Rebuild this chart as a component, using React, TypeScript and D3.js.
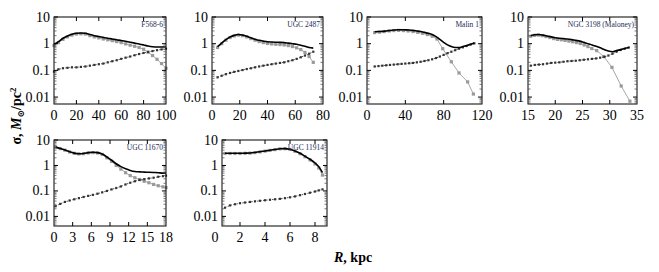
import * as d3 from "d3";

// F568-6
const f568R = [0, 4, 8, 12, 16, 20, 24, 28, 32, 36, 40, 44, 48, 52, 56, 60, 64, 68, 72, 76, 80, 84, 88, 92, 96, 100];
const f568Total = [0.95, 1.2, 1.6, 1.95, 2.25, 2.45, 2.5, 2.45, 2.2, 2.0, 1.85, 1.72, 1.6, 1.5, 1.4, 1.32, 1.22, 1.13, 1.05, 0.98, 0.9, 0.82, 0.77, 0.75, 0.75, 0.76];
const f568Gas = [0.85, 1.1, 1.45, 1.8, 2.1, 2.3, 2.35, 2.3, 2.0, 1.8, 1.65, 1.5, 1.4, 1.3, 1.2, 1.1, 0.98, 0.88, 0.8, 0.72, 0.62, 0.48, 0.36, 0.26, 0.18, 0.12];
const f568Star = [0.09, 0.11, 0.12, 0.125, 0.13, 0.13, 0.135, 0.14, 0.15, 0.16, 0.17, 0.18, 0.2, 0.22, 0.24, 0.27, 0.3, 0.33, 0.37, 0.41, 0.45, 0.49, 0.53, 0.57, 0.61, 0.65];

// UGC 2487
const u2487R = [4, 7, 10, 13, 16, 19, 22, 25, 28, 31, 34, 37, 40, 43, 46, 49, 52, 55, 58, 61, 64, 67, 70, 73];
const u2487Total = [0.78, 1.06, 1.42, 1.78, 2.05, 2.2, 2.1, 1.9, 1.67, 1.48, 1.34, 1.25, 1.18, 1.15, 1.13, 1.12, 1.1, 1.05, 1.0, 0.95, 0.88, 0.8, 0.72, 0.68];
const u2487Gas = [0.72, 1.0, 1.35, 1.7, 1.95, 2.1, 2.0, 1.8, 1.55, 1.35, 1.2, 1.1, 1.02, 0.98, 0.95, 0.93, 0.9, 0.85, 0.78, 0.7, 0.6, 0.47, 0.33, 0.2];
const u2487Star = [0.055, 0.063, 0.072, 0.08, 0.088, 0.095, 0.103, 0.112, 0.12, 0.13, 0.14, 0.15, 0.16, 0.17, 0.18, 0.19, 0.2, 0.22, 0.24, 0.27, 0.31, 0.36, 0.42, 0.5];

// Malin 1
const malinR = [8, 12, 16, 20, 24, 28, 32, 36, 40, 44, 48, 52, 56, 60, 64, 68, 72, 76, 80, 84, 88, 92, 96, 100, 104, 108, 112];
const malinTotal = [2.8, 2.85, 2.9, 3.0, 3.1, 3.25, 3.35, 3.35, 3.3, 3.25, 3.15, 3.0, 2.85, 2.65, 2.45, 2.2, 1.85, 1.45, 1.12, 0.9, 0.78, 0.72, 0.72, 0.78, 0.86, 0.95, 1.05];
const malinStar = [0.14, 0.145, 0.15, 0.155, 0.16, 0.165, 0.17, 0.175, 0.18, 0.185, 0.19, 0.2, 0.21, 0.225, 0.24, 0.26, 0.29, 0.33, 0.38, 0.44, 0.5, 0.57, 0.65, 0.73, 0.82, 0.92, 1.03];
const malinGasR = [8, 13, 18, 23, 28, 33, 38, 43, 48, 53, 58, 63, 68, 73, 79, 88, 96, 105, 111];
const malinGas = [2.6, 2.7, 2.85, 3.0, 3.1, 3.15, 3.1, 3.0, 2.85, 2.65, 2.45, 2.2, 1.9, 1.5, 0.65, 0.21, 0.08, 0.037, 0.013];

// NGC 3198 (Maloney)
const n3198R = [15.5, 16.25, 17, 17.75, 18.5, 19.25, 20, 20.75, 21.5, 22.25, 23, 23.75, 24.5, 25.25, 26, 26.75, 27.5, 28.25, 29, 29.75, 30.5, 31.25, 32, 32.75, 33.5];
const n3198Total = [2.0, 2.15, 2.2, 2.1, 1.95, 1.8, 1.68, 1.6, 1.55, 1.5, 1.42, 1.33, 1.25, 1.12, 1.0, 0.9, 0.8, 0.7, 0.6, 0.53, 0.5, 0.55, 0.6, 0.66, 0.72];
const n3198Star = [0.15, 0.16, 0.165, 0.17, 0.18, 0.19, 0.195, 0.2, 0.21, 0.22, 0.225, 0.23, 0.24, 0.25, 0.26, 0.27, 0.28, 0.3, 0.32, 0.36, 0.42, 0.5, 0.58, 0.65, 0.72];
const n3198GasR = [15.5, 16.2, 16.9, 17.6, 18.3, 19, 19.7, 20.4, 21.1, 21.8, 22.5, 23.2, 23.9, 24.6, 25.3, 26, 26.7, 27.6, 28.9, 30.4, 32.1, 33.7];
const n3198Gas = [1.9, 2.05, 2.1, 2.0, 1.85, 1.7, 1.55, 1.45, 1.4, 1.33, 1.25, 1.18, 1.1, 1.02, 0.9, 0.78, 0.66, 0.55, 0.33, 0.13, 0.026, 0.007];

// UGC 11670
const u11670R = [0.25, 1, 1.75, 2.5, 3.25, 4, 4.75, 5.5, 6.25, 7, 7.75, 8.5, 9.25, 10, 10.75, 11.5, 12.25, 13, 13.75, 14.5, 15.25, 16, 16.75, 17.5, 18];
const u11670Total = [5.25, 4.65, 4.05, 3.45, 3.05, 2.9, 2.95, 3.2, 3.3, 3.2, 2.8, 2.15, 1.6, 1.17, 0.9, 0.74, 0.64, 0.58, 0.56, 0.55, 0.54, 0.53, 0.52, 0.5, 0.5];
const u11670Gas = [5.2, 4.6, 4.0, 3.4, 3.0, 2.85, 2.9, 3.1, 3.2, 3.1, 2.7, 2.0, 1.45, 1.0, 0.72, 0.52, 0.4, 0.33, 0.28, 0.24, 0.21, 0.18, 0.16, 0.145, 0.135];
const u11670Star = [0.025, 0.031, 0.037, 0.042, 0.047, 0.052, 0.058, 0.064, 0.07, 0.078, 0.088, 0.1, 0.115, 0.13, 0.15, 0.18, 0.21, 0.24, 0.27, 0.29, 0.31, 0.33, 0.36, 0.38, 0.4];

// UGC 11914
const u11914R = [0.8, 1.2, 1.6, 2.0, 2.4, 2.8, 3.2, 3.6, 4.0, 4.4, 4.8, 5.2, 5.6, 6.0, 6.4, 6.8, 7.2, 7.6, 8.0, 8.3, 8.6];
const u11914Total = [3.0, 3.0, 3.0, 3.0, 3.05, 3.1, 3.25, 3.45, 3.7, 3.95, 4.25, 4.55, 4.6, 4.3, 3.7, 3.0, 2.3, 1.75, 1.25, 0.9, 0.52];
const u11914Gas = [2.95, 2.95, 2.95, 2.95, 3.0, 3.05, 3.2, 3.4, 3.65, 3.9, 4.2, 4.5, 4.55, 4.25, 3.6, 2.9, 2.2, 1.65, 1.15, 0.8, 0.42];
const u11914Star = [0.022, 0.027, 0.03, 0.033, 0.035, 0.037, 0.039, 0.041, 0.043, 0.045, 0.047, 0.049, 0.052, 0.056, 0.061, 0.068, 0.076, 0.085, 0.095, 0.105, 0.115];

const names = ["F568-6", "UGC 2487", "Malin 1", "NGC 3198 (Maloney)", "UGC 11670", "UGC 11914"];
const xDomains = [[0, 100], [0, 80], [0, 120], [15, 35], [0, 18], [0, 9]];
const xTicks = [
  [0, 20, 40, 60, 80, 100],
  [0, 20, 40, 60, 80],
  [0, 40, 80, 120],
  [15, 20, 25, 30, 35],
  [0, 3, 6, 9, 12, 15, 18],
  [0, 2, 4, 6, 8],
];
const yTicks = [10, 1, 0.1, 0.01];

const series = [
  { r: f568R, total: f568Total, star: f568Star, gasR: f568R, gas: f568Gas },
  { r: u2487R, total: u2487Total, star: u2487Star, gasR: u2487R, gas: u2487Gas },
  { r: malinR, total: malinTotal, star: malinStar, gasR: malinGasR, gas: malinGas },
  { r: n3198R, total: n3198Total, star: n3198Star, gasR: n3198GasR, gas: n3198Gas },
  { r: u11670R, total: u11670Total, star: u11670Star, gasR: u11670R, gas: u11670Gas },
  { r: u11914R, total: u11914Total, star: u11914Star, gasR: u11914R, gas: u11914Gas },
];

// frame boxes: [left, right, top, bottom, frameStartX (domain value where box begins)]
const boxes = [
  { x0: 54, x1: 166, y0: 17, y1: 104 },
  { x0: 212, x1: 323, y0: 17, y1: 104 },
  { x0: 367, x1: 482, y0: 17, y1: 104 },
  { x0: 528, x1: 637, y0: 17, y1: 104 },
  { x0: 54, x1: 166, y0: 140, y1: 226 },
  { x0: 222, x1: 327, y0: 140, y1: 226 },
];

const font = "'Liberation Serif', 'DejaVu Serif', serif";

function Panel({ i }: { i: number }) {
  const b = boxes[i];
  const s = series[i];
  const isLast = i === 5;
  // UGC 11914 axis starts a bit left of its frame
  const x = d3.scaleLinear().domain(xDomains[i]).range(isLast ? [215, 327.5] : [b.x0, b.x1]);
  const y = d3.scaleLog().domain(i < 4 ? [0.0055, 10] : [0.0042, 10]).range([b.y1, b.y0]);

  const lineSmooth = d3.line<number>().x((_, k) => x(s.r[k])).y((d) => y(d)).curve(d3.curveMonotoneX);
  const lineStar = d3.line<number>().x((_, k) => x(s.r[k])).y((d) => y(d));
  const lineGas = d3.line<number>().x((_, k) => x(s.gasR[k])).y((d) => y(d));

  const minor: number[] = [];
  [0.001, 0.01, 0.1, 1].forEach((dec) => {
    for (let m = 2; m <= 9; m++) {
      const v = dec * m;
      if (v > y.domain()[0] && v < 10) minor.push(v);
    }
  });

  return (
    <g>
      {/* gas component */}
      <path d={lineGas(s.gas) || ""} fill="none" stroke="#a8a8a8" strokeWidth={1} />
      {s.gas.map((v, k) => (
        <rect key={"g" + k} x={x(s.gasR[k]) - 1.6} y={y(v) - 1.6} width={3.2} height={3.2} fill="#9a9a9a" />
      ))}
      {/* stellar component */}
      <path d={lineStar(s.star) || ""} fill="none" stroke="#222" strokeWidth={0.8} strokeDasharray="1.5,1.5" />
      {s.star.map((v, k) => (
        <rect key={"s" + k} x={x(s.r[k]) - 1.1} y={y(v) - 1.1} width={2.2} height={2.2} fill="#333" />
      ))}
      {/* total */}
      <path d={lineSmooth(s.total) || ""} fill="none" stroke="#000" strokeWidth={1.6} />

      <rect x={b.x0} y={b.y0} width={b.x1 - b.x0} height={b.y1 - b.y0} fill="none" stroke="#000" strokeWidth={1} />

      {yTicks.map((t) => (
        <g key={"y" + t}>
          <line x1={b.x0} x2={b.x0 + 4} y1={y(t)} y2={y(t)} stroke="#000" />
          <line x1={b.x1} x2={b.x1 - 4} y1={y(t)} y2={y(t)} stroke="#000" />
          <text x={b.x0 - 4} y={y(t) + 4.5} textAnchor="end" fontSize={14} fontFamily={font}>
            {t}
          </text>
        </g>
      ))}
      {minor.map((t) => (
        <g key={"m" + t}>
          <line x1={b.x0} x2={b.x0 + 2.5} y1={y(t)} y2={y(t)} stroke="#555" strokeWidth={0.8} />
          <line x1={b.x1} x2={b.x1 - 2.5} y1={y(t)} y2={y(t)} stroke="#555" strokeWidth={0.8} />
        </g>
      ))}
      {xTicks[i].map((t) => {
        const px = x(t);
        const inside = px > b.x0 + 0.5 && px < b.x1 - 0.5;
        return (
          <g key={"x" + t}>
            {inside && (
              <>
                <line x1={px} x2={px} y1={b.y1} y2={b.y1 - 4} stroke="#000" />
                <line x1={px} x2={px} y1={b.y0} y2={b.y0 + 4} stroke="#000" />
              </>
            )}
            <text x={px} y={b.y1 + 16} textAnchor="middle" fontSize={14} fontFamily={font}>
              {t}
            </text>
          </g>
        );
      })}
      <text x={b.x1 - 3} y={b.y0 + 10} textAnchor="end" fontSize={7.5} fontFamily={font} fill="#1d2b55">
        {names[i]}
      </text>
    </g>
  );
}

export default function App() {
  return (
    <svg width={659} height={272} style={{ position: "absolute", left: 0, top: 0, background: "#fff" }}>
      {boxes.map((_, i) => (
        <Panel key={i} i={i} />
      ))}
      <text
        transform="translate(21,116) rotate(-90)"
        textAnchor="middle"
        fontSize={14}
        fontFamily={font}
        fontWeight="bold"
      >
        σ, <tspan fontStyle="italic">M</tspan>
        <tspan fontSize={9} dy={3}>⊙</tspan>
        <tspan dy={-3}>/pc</tspan>
        <tspan fontSize={9} dy={-5}>2</tspan>
      </text>
      <text x={334} y={262} fontSize={14} fontFamily={font} fontWeight="bold">
        <tspan fontStyle="italic">R</tspan>, kpc
      </text>
    </svg>
  );
}
